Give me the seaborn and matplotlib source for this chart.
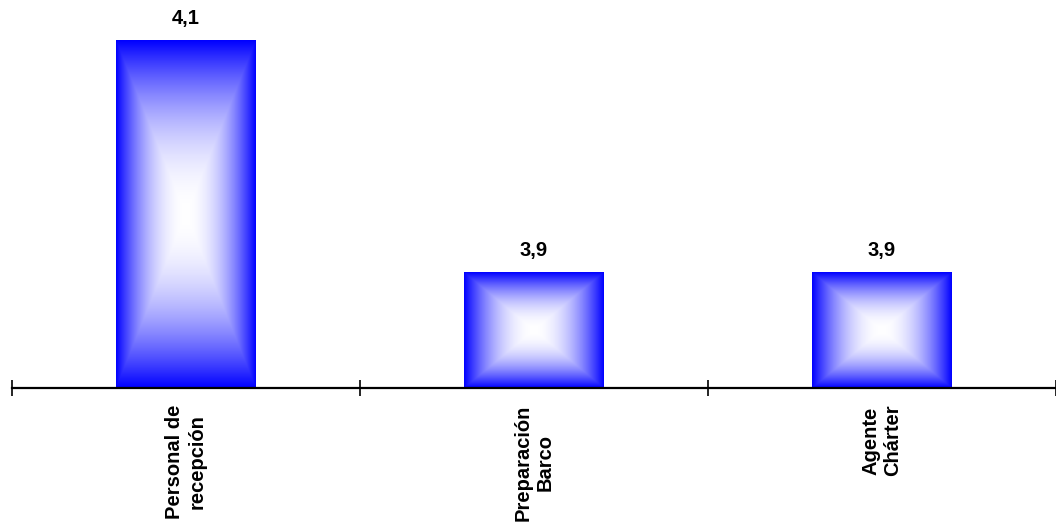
import numpy as np
import pandas as pd
import matplotlib
matplotlib.use("Agg")
import matplotlib.pyplot as plt
import seaborn as sns

categories = ["Personal de\nrecepción", "Preparación\nBarco", "Agente\nChárter"]
values = [4.1, 3.9, 3.9]

sns.set_theme(style="white")
plt.rcParams["font.family"] = ["Liberation Sans", "DejaVu Sans"]

df = pd.DataFrame({"categoria": categories, "valor": values})

fig = plt.figure(figsize=(10.56, 5.30), dpi=100)
ax = fig.add_axes([12 / 1056, 142 / 530, 1 - 12 / 1056, 388 / 530])

sns.barplot(data=df, x="categoria", y="valor", width=0.4, color="blue",
            ax=ax, saturation=1)

YMIN, YMAX = 3.8, 4.1345
ax.set_ylim(YMIN, YMAX)
ax.set_xlim(-0.5, 2.5)


def center_gradient(n=400, power=2.0):
    # rectangular gradient: white centre fading to blue at every edge
    u = np.linspace(-1, 1, n)
    xx, yy = np.meshgrid(u, u)
    t = np.maximum(np.abs(xx), np.abs(yy)) ** power
    blue = np.array([0.0, 0.0, 1.0])
    white = np.array([1.0, 1.0, 1.0])
    return white[None, None, :] * (1 - t[..., None]) + blue[None, None, :] * t[..., None]


grad = center_gradient()
for patch in ax.patches:
    x0, y0 = patch.get_x(), patch.get_y()
    w, h = patch.get_width(), patch.get_height()
    y_low = max(y0, YMIN)
    y_high = y0 + h
    patch.set_facecolor("none")
    patch.set_edgecolor("none")
    im = ax.imshow(grad, extent=[x0, x0 + w, y_low, y_high], origin="lower",
                   aspect="auto", interpolation="bilinear", zorder=2)
    im.set_clip_path(patch)

ax.set_xlim(-0.5, 2.5)
ax.set_ylim(YMIN, YMAX)

for i, v in enumerate(values):
    ax.annotate(f"{v:.1f}".replace(".", ","), xy=(i, v), xytext=(0, 22),
                textcoords="offset pixels", ha="center", va="center",
                fontsize=14.5, fontweight="bold", color="black")

for side in ["top", "right", "left"]:
    ax.spines[side].set_visible(False)
ax.spines["bottom"].set_linewidth(1.6)
ax.spines["bottom"].set_color("black")
ax.set_yticks([])
ax.set_xlabel("")
ax.set_ylabel("")

ax.set_xticks(range(len(categories)))
ax.set_xticklabels(categories, rotation=90, ha="center", va="top",
                   multialignment="center", fontsize=14.5, fontweight="bold",
                   color="black")
ax.tick_params(axis="x", which="major", length=0, pad=12)
ax.set_xticks([-0.5, 0.5, 1.5, 2.5], minor=True)
ax.tick_params(axis="x", which="minor", direction="inout", length=11,
               width=1.2, color="black", bottom=True)

fig.savefig("out.png", dpi=100, facecolor="white")
